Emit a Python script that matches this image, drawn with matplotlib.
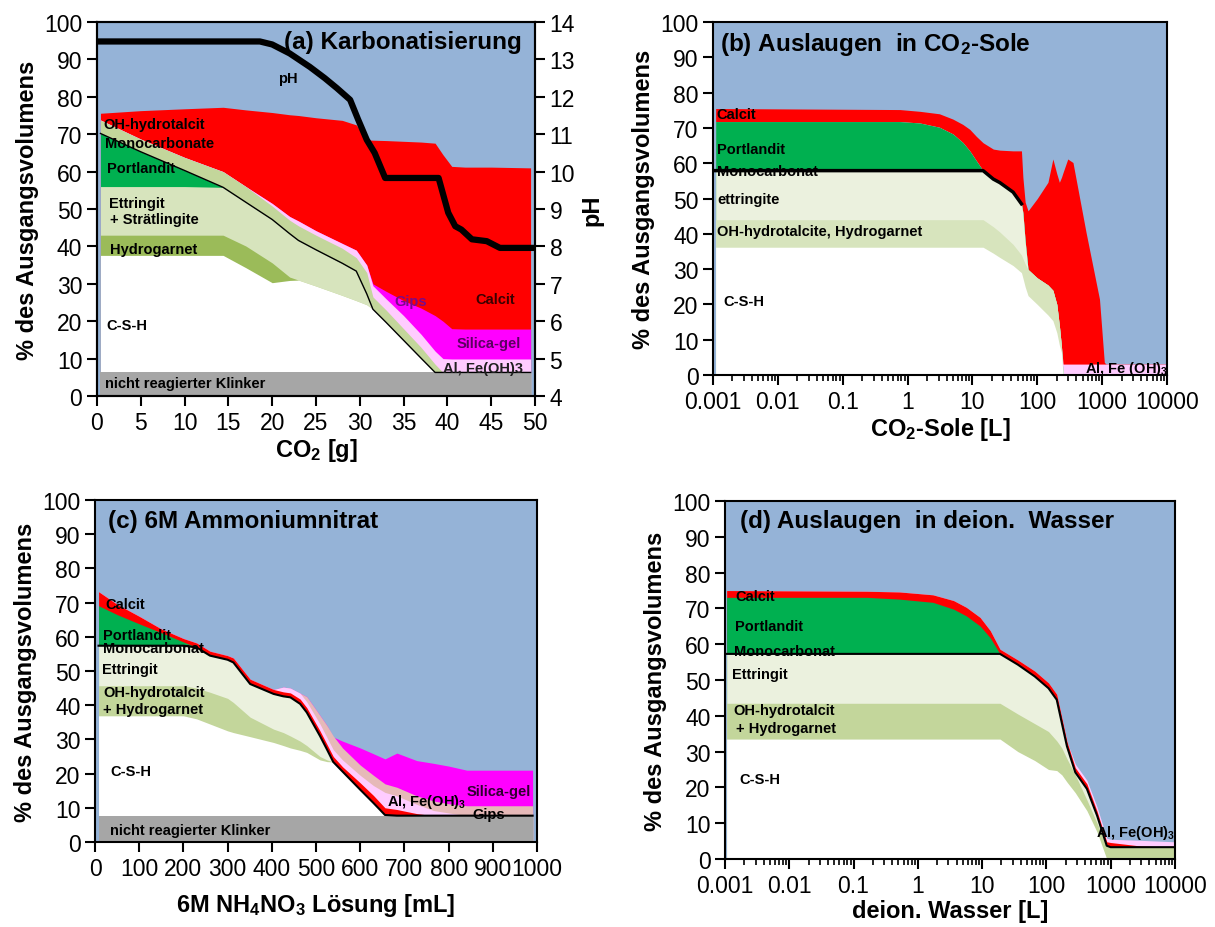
import numpy as np
import matplotlib.pyplot as plt
from matplotlib.ticker import FixedLocator, LogLocator, NullFormatter, FuncFormatter

plt.rcParams['font.family'] = ['Liberation Sans', 'DejaVu Sans']
plt.rcParams['mathtext.fontset'] = 'custom'
plt.rcParams['mathtext.rm'] = 'Liberation Sans'
plt.rcParams['mathtext.bf'] = 'Liberation Sans:bold'
plt.rcParams['mathtext.it'] = 'Liberation Sans:italic'

BLUE = '#95B3D7'
RED = '#FF0000'
GREEN = '#00B050'
GRAY = '#A6A6A6'
PINK = '#FFCCFF'
MAGENTA = '#FF00FF'
ROSY = '#E6B9B8'
OLIVE = '#C3D69B'
DARKOLIVE = '#9BBB59'
LIGHTGREEN = '#D7E4BD'
PALEGREEN = '#EBF1DE'

# ---------- (a) Karbonatisierung: upper edges of the stacked phases ----------
co2_g = [0.4, 5, 10, 14.4, 17, 20, 22, 23, 25, 28, 29.6, 30.8, 31.5, 33, 35, 37, 38.6, 39.5, 40.5, 42, 45, 49.5]
a_klinker = [6.3] * 22
a_csh = [37.6, 37.6, 37.6, 37.6, 34.3, 30.3, 30.9, 31.0, 29.4, 26.9, 25.5, 24.4, 23.2, 19.7, 14.9, 10.1, 6.3, 6.3, 6.3, 6.3, 6.3, 6.3]
a_hydrogarnet = [43.0, 43.0, 43.0, 43.0, 40.1, 35.6, 31.8, 31.0, 29.4, 26.9, 25.5, 24.4, 23.2, 19.7, 14.9, 10.1, 6.3, 6.3, 6.3, 6.3, 6.3, 6.3]
a_ettringit = [56.0, 56.0, 56.0, 55.8, 51.8, 47.2, 43.4, 41.6, 39.1, 35.5, 33.4, 27.3, 23.2, 19.7, 14.9, 10.1, 6.3, 6.3, 6.3, 6.3, 6.3, 6.3]
a_portlandit = [70.2, 65.3, 60.3, 55.8, 51.8, 47.2, 43.4, 41.6, 39.1, 35.5, 33.4, 27.3, 23.2, 19.7, 14.9, 10.1, 6.3, 6.3, 6.3, 6.3, 6.3, 6.3]
a_hydrotalcit = [73.8, 68.7, 63.8, 60.0, 56.0, 50.8, 47.0, 45.5, 43.0, 39.5, 37.0, 33.0, 26.5, 23.0, 18.0, 13.0, 8.5, 6.3, 6.3, 6.3, 6.3, 6.3]
a_alfe = [73.8, 68.7, 63.8, 60.0, 56.0, 51.5, 48.0, 46.8, 44.2, 40.8, 39.0, 35.0, 29.5, 26.0, 21.5, 16.5, 12.0, 10.0, 9.9, 9.9, 9.9, 9.9]
a_silica = [73.8, 68.7, 63.8, 60.0, 56.0, 51.5, 48.0, 46.8, 44.2, 40.8, 39.0, 35.0, 30.0, 28.0, 25.5, 23.5, 21.5, 20.0, 18.0, 17.9, 17.9, 17.9]
a_calcit = [75.6, 76.3, 76.8, 77.2, 76.5, 75.8, 75.2, 75.0, 74.4, 73.7, 72.5, 68.5, 68.4, 68.3, 68.1, 67.9, 67.6, 64.5, 61.4, 61.2, 61.2, 61.0]

ph_x = [0.4, 18.6, 20, 22, 24.3, 26, 27.4, 28.9, 29.8, 30.8, 31.7, 32.9, 39, 40.1, 40.9, 41.6, 42.8, 44.5, 46, 49.8]
ph = [13.48, 13.48, 13.4, 13.16, 12.8, 12.5, 12.23, 11.92, 11.4, 10.85, 10.5, 9.83, 9.83, 8.9, 8.54, 8.45, 8.19, 8.14, 7.96, 7.96]

# ---------- (b) Auslaugen in CO2-Sole ----------
sole_L = [0.0011, 0.76, 1.55, 3.1, 5.0, 7.1, 9.1, 11.5, 14.6, 21, 26.5, 42.4, 57, 60, 65, 72, 100, 146, 174,
          200, 219, 236, 250, 295, 355, 565, 910, 1080, 1150, 10000]
b_csh = [36.2] * 9 + [34.5, 33.3, 31.0, 29.0, 27.5, 25.0, 22.5, 20.0, 17.0, 15.4, 12.0, 8.5, 6.4] + [0] * 8
b_hydrotalcit = [44.0] * 9 + [42.0, 40.5, 37.0, 34.0, 33.0, 31.5, 29.9, 27.5, 25.5, 24.0, 20.0, 14.0, 8.0] + [0] * 8
b_ettringit = [57.9] * 9 + [55.5, 54.5, 51.8, 48.5, 46.0, 38.0, 29.9, 27.5, 25.5, 24.0, 20.0, 14.0, 8.0] + [0] * 8
b_portlandit = [71.8, 71.8, 71.4, 70.2, 68.3, 65.9, 63.5, 60.7, 57.9,
                55.5, 54.5, 51.8, 48.5, 46.0, 38.0, 29.9, 27.5, 25.5, 24.0, 20.0, 14.0, 8.0] + [0] * 8
b_alfe = [71.8, 71.8, 71.4, 70.2, 68.3, 65.9, 63.5, 60.7, 57.9,
          55.5, 54.5, 51.8, 48.5, 46.0, 38.0, 29.9, 27.5, 25.5, 24.0, 20.0, 14.0, 8.0] + [3.1] * 8
b_calcit = [75.5, 75.2, 74.7, 74.0, 72.5, 71.0, 69.6, 67.6, 65.8, 64.0, 63.7, 63.5, 63.5, 56.0, 49.0, 46.5, 50.0,
            54.6, 61.2, 57.0, 54.6, 56.0, 57.4, 61.2, 60.2, 40.4, 21.5, 3.6, 3.1, 3.1]

# ---------- (c) 6M Ammoniumnitrat ----------
nh4no3_mL = [8, 50, 100, 150, 200, 230, 260, 300, 313, 351, 404, 426, 442, 464, 479, 509, 525, 539, 560, 600, 630, 656, 683, 728, 766, 800, 841, 900, 950, 990]
c_klinker = [7.7] * 30
c_csh = [36.9, 36.9, 36.9, 36.9, 36.9, 36.0, 34.5, 32.5, 32.0, 30.8, 29.1, 28.2, 27.5, 26.8, 26.2, 24.0, 23.5, 23.4, 20.6, 15.3, 11.4, 7.9, 7.7, 7.7, 7.7, 7.7, 7.7, 7.7, 7.7, 7.7]
c_hydrotalcit = [45.7, 45.7, 45.7, 45.7, 45.7, 45.0, 43.8, 42.0, 40.8, 36.5, 33.0, 32.0, 31.0, 29.5, 28.2, 25.0, 24.0, 23.4, 20.6, 15.3, 11.4, 7.9, 7.7, 7.7, 7.7, 7.7, 7.7, 7.7, 7.7, 7.7]
c_ettringit = [57.4, 57.4, 57.4, 57.4, 57.4, 56.9, 54.5, 53.3, 52.5, 46.2, 43.3, 42.6, 42.3, 40.4, 37.9, 31.0, 27.0, 23.4, 20.6, 15.3, 11.4, 7.9, 7.7, 7.7, 7.7, 7.7, 7.7, 7.7, 7.7, 7.7]
c_portlandit = [69.1, 66.5, 63.8, 61.2, 58.5, 56.9, 54.5, 53.3, 52.5, 46.2, 43.3, 42.6, 42.3, 40.4, 37.9, 31.0, 27.0, 23.4, 20.6, 15.3, 11.4, 7.9, 7.7, 7.7, 7.7, 7.7, 7.7, 7.7, 7.7, 7.7]
c_calcit = [73.2, 69.5, 66.0, 62.3, 59.5, 58.2, 55.8, 54.5, 53.8, 47.6, 44.6, 43.9, 43.6, 41.8, 39.3, 32.5, 28.5, 25.0, 22.0, 17.3, 13.6, 10.0, 9.5, 8.3, 7.7, 7.7, 7.7, 7.7, 7.7, 7.7]
c_alfe = [73.2, 69.5, 66.0, 62.3, 59.5, 58.2, 55.8, 54.5, 53.8, 47.6, 44.6, 45.3, 45.0, 43.5, 41.0, 34.5, 30.5, 27.0, 24.0, 19.5, 16.5, 14.5, 13.5, 11.0, 9.2, 8.5, 7.7, 7.7, 7.7, 7.7]
c_gips = [73.2, 69.5, 66.0, 62.3, 59.5, 58.2, 55.8, 54.5, 53.8, 47.6, 44.6, 45.3, 45.0, 43.5, 42.5, 37.0, 34.0, 31.0, 27.5, 22.5, 19.5, 17.0, 16.0, 13.5, 12.0, 11.2, 10.6, 10.6, 10.6, 10.6]
c_silica = [73.2, 69.5, 66.0, 62.3, 59.5, 58.2, 55.8, 54.5, 53.8, 47.6, 44.6, 45.3, 45.0, 43.5, 42.5, 37.0, 34.0, 30.7, 29.5, 27.5, 25.8, 24.3, 26.0, 23.8, 23.0, 22.2, 21.0, 21.0, 21.0, 21.0]

# ---------- (d) Auslaugen in deion. Wasser ----------
wasser_L = [0.00106, 0.16, 0.52, 1.72, 3.6, 5.7, 9.3, 13.4, 19, 36, 66, 108, 145, 174, 209, 282, 427, 616, 870, 1000, 3000, 10000]
d_csh = [33.5] * 9 + [30.0, 27.5, 25.0, 24.7, 23.5, 21.5, 18.5, 13.5, 7.5, 0, 0, 0, 0]
d_hydrotalcit = [43.5] * 9 + [40.5, 37.8, 35.6, 33.0, 31.0, 28.0, 23.5, 16.5, 10.0, 3.5, 3.3, 3.3, 3.3]
d_ettringit = [57.3] * 9 + [54.3, 51.0, 47.7, 44.5, 38.0, 31.5, 24.2, 19.6, 12.1, 3.7, 3.3, 3.3, 3.3]
d_portlandit = [73.1, 73.1, 72.6, 71.7, 69.8, 67.9, 65.1, 61.8, 57.3,
                54.3, 51.0, 47.7, 44.5, 38.0, 31.5, 24.2, 19.6, 12.1, 3.7, 3.3, 3.3, 3.3]
d_calcit = [75.0, 74.8, 74.6, 73.8, 72.2, 70.3, 67.5, 63.8, 58.6,
            55.6, 52.5, 49.2, 46.0, 39.5, 32.8, 25.5, 21.0, 13.3, 4.8, 4.6, 3.6, 3.3]
d_alfe = [75.0, 74.8, 74.6, 73.8, 72.2, 70.3, 67.5, 63.8, 58.6,
          55.6, 52.5, 49.2, 46.0, 39.5, 32.8, 26.5, 22.0, 14.5, 5.8, 5.5, 5.2, 4.8]


def stack(ax, x, tops, colors):
    # painter's order: topmost phase first, each filled down to zero
    for top, c in reversed(list(zip(tops, colors))):
        ax.fill_between(x, 0, top, color=c, lw=0, zorder=1)


def style(ax, log=False):
    ax.set_facecolor(BLUE)
    ax.set_ylim(0, 100)
    ax.set_yticks(range(0, 101, 10))
    for s in ax.spines.values():
        s.set_linewidth(1.5)
        s.set_zorder(5)
    ax.tick_params(direction='out', length=7, width=1.5, labelsize=16.5)
    ax.set_ylabel('% des Ausgangsvolumens', fontsize=17, fontweight='bold')
    if log:
        ax.set_xscale('log')
        ax.set_xlim(0.001, 10000)
        ax.xaxis.set_major_locator(FixedLocator([10.0 ** k for k in range(-3, 5)]))
        ax.xaxis.set_major_formatter(FuncFormatter(lambda v, p: '%g' % v))
        ax.xaxis.set_minor_locator(LogLocator(base=10, subs=np.arange(2, 10), numticks=20))
        ax.xaxis.set_minor_formatter(NullFormatter())
        ax.tick_params(which='minor', direction='out', length=4, width=1.2)


def lab(ax, x, y, s, color='black', size=10.5, ha='left'):
    ax.text(x, y, s, fontsize=size, fontweight='bold', color=color, ha=ha, va='center', zorder=3)


fig = plt.figure(figsize=(12.15, 9.28), dpi=100)
axa = fig.add_axes([0.0798, 0.5722, 0.3605, 0.4030])
axb = fig.add_axes([0.5868, 0.5948, 0.3737, 0.3804])
axc = fig.add_axes([0.0782, 0.0916, 0.3638, 0.3685])
axd = fig.add_axes([0.5967, 0.0733, 0.3703, 0.3857])

# (a)
style(axa)
axa.set_xlim(0, 50)
axa.set_xticks(range(0, 51, 5))
stack(axa, co2_g,
      [a_klinker, a_csh, a_hydrogarnet, a_ettringit, a_portlandit, a_hydrotalcit, a_alfe, a_silica, a_calcit],
      [GRAY, 'white', DARKOLIVE, LIGHTGREEN, GREEN, OLIVE, PINK, MAGENTA, RED])
axa.plot(co2_g, a_portlandit, color='black', lw=1, zorder=2)
axa.set_xlabel(r'CO$_\mathbf{2}$ [g]', fontsize=17, fontweight='bold', labelpad=2)
axa.text(48.5, 94.8, '(a) Karbonatisierung', fontsize=17.5, fontweight='bold', ha='right', va='center', zorder=3)
lab(axa, 0.7, 72.8, 'OH-hydrotalcit')
lab(axa, 0.9, 67.6, 'Monocarbonate')
lab(axa, 1.1, 61.0, 'Portlandit')
lab(axa, 1.4, 51.6, 'Ettringit')
lab(axa, 1.5, 47.2, '+ Strätlingite')
lab(axa, 1.5, 39.4, 'Hydrogarnet')
lab(axa, 1.1, 18.9, 'C-S-H')
lab(axa, 0.9, 3.5, 'nicht reagierter Klinker')
lab(axa, 20.7, 85.0, 'pH')
lab(axa, 34.0, 25.4, 'Gips', color='#7A0A8A')
lab(axa, 43.2, 26.0, 'Calcit', color='#3A0000')
lab(axa, 41.1, 14.1, 'Silica-gel', color='#5A0060')
lab(axa, 39.5, 7.6, 'Al, Fe(OH)3', color='#202020')

axph = axa.twinx()
axph.set_ylim(4, 14)
axph.set_yticks(range(4, 15))
axph.plot(ph_x, ph, color='black', lw=4.5, solid_joinstyle='round')
axph.tick_params(direction='out', length=7, width=1.5, labelsize=16.5)
axph.set_ylabel('pH', fontsize=17, fontweight='bold')
for s in axph.spines.values():
    s.set_linewidth(1.5)

# (b)
style(axb, log=True)
stack(axb, sole_L,
      [b_csh, b_hydrotalcit, b_ettringit, b_portlandit, b_alfe, b_calcit],
      ['white', LIGHTGREEN, PALEGREEN, GREEN, PINK, RED])
n = 13
axb.plot(sole_L[:n], b_ettringit[:n], color='black', lw=2.5, zorder=4)
axb.set_xlabel(r'CO$_\mathbf{2}$-Sole [L]', fontsize=17, fontweight='bold', labelpad=2)
axb.text(0.00128, 93.8, r'(b) Auslaugen  in CO$_\mathbf{2}$-Sole', fontsize=17.5, fontweight='bold', va='center', zorder=3)
lab(axb, 0.00114, 73.9, 'Calcit')
lab(axb, 0.00114, 64.0, 'Portlandit')
lab(axb, 0.00114, 57.9, 'Monocarbonat')
lab(axb, 0.00118, 50.0, 'ettringite')
lab(axb, 0.00114, 40.9, 'OH-hydrotalcite, Hydrogarnet')
lab(axb, 0.00144, 21.0, 'C-S-H')
lab(axb, 540, 2.0, r'Al, Fe (OH)$_\mathbf{3}$')

# (c)
style(axc)
axc.set_xlim(0, 1000)
axc.set_xticks(range(0, 1001, 100))
stack(axc, nh4no3_mL,
      [c_klinker, c_csh, c_hydrotalcit, c_ettringit, c_portlandit, c_calcit, c_alfe, c_gips, c_silica],
      [GRAY, 'white', OLIVE, PALEGREEN, GREEN, RED, PINK, ROSY, MAGENTA])
axc.plot(nh4no3_mL, c_ettringit, color='black', lw=1.5, zorder=4)
axc.set_xlabel(r'6M NH$_\mathbf{4}$NO$_\mathbf{3}$ Lösung [mL]', fontsize=17, fontweight='bold', labelpad=8)
axc.text(30, 94, '(c) 6M Ammoniumnitrat', fontsize=17.5, fontweight='bold', va='center', zorder=3)
lab(axc, 22.6, 69.6, 'Calcit')
lab(axc, 19, 60.5, 'Portlandit')
lab(axc, 19, 56.7, 'Monocarbonat')
lab(axc, 15, 50.6, 'Ettringit')
lab(axc, 19, 44.0, 'OH-hydrotalcit')
lab(axc, 19, 38.9, '+ Hydrogarnet')
lab(axc, 34, 20.9, 'C-S-H')
lab(axc, 34, 3.6, 'nicht reagierter Klinker')
lab(axc, 660, 12.1, r'Al, Fe(OH)$_\mathbf{3}$')
lab(axc, 841, 15.0, 'Silica-gel', color='#300030')
lab(axc, 853, 8.2, 'Gips')

# (d)
style(axd, log=True)
stack(axd, wasser_L,
      [d_csh, d_hydrotalcit, d_ettringit, d_portlandit, d_calcit, d_alfe],
      ['white', OLIVE, PALEGREEN, GREEN, RED, PINK])
axd.plot(wasser_L, d_ettringit, color='black', lw=1.5, zorder=4)
axd.set_xlabel('deion. Wasser [L]', fontsize=17, fontweight='bold', labelpad=2)
axd.text(0.0017, 94.5, '(d) Auslaugen  in deion.  Wasser', fontsize=17.5, fontweight='bold', va='center', zorder=3)
lab(axd, 0.00143, 73.5, 'Calcit')
lab(axd, 0.00143, 65.2, 'Portlandit')
lab(axd, 0.00137, 58.2, 'Monocarbonat')
lab(axd, 0.0013, 51.7, 'Ettringit')
lab(axd, 0.00137, 41.7, 'OH-hydrotalcit')
lab(axd, 0.0015, 36.5, '+ Hydrogarnet')
lab(axd, 0.0017, 22.3, 'C-S-H')
lab(axd, 600, 7.4, r'Al, Fe(OH)$_\mathbf{3}$')

fig.savefig('out.png', dpi=100)
